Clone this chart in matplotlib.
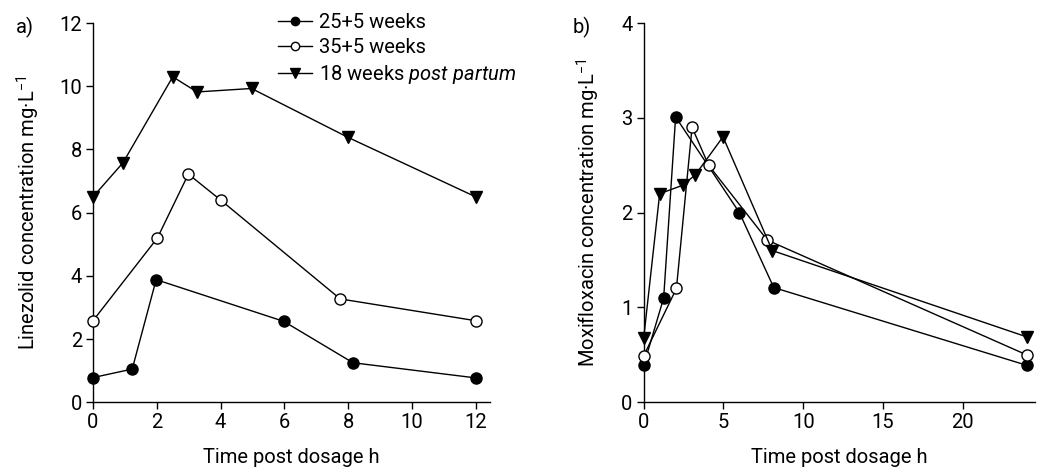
import matplotlib
matplotlib.use('Agg')
import matplotlib.pyplot as plt

plt.rcParams['font.family'] = ['Roboto', 'DejaVu Sans']
plt.rcParams['mathtext.fontset'] = 'custom'
plt.rcParams['mathtext.rm'] = 'Roboto'
plt.rcParams['mathtext.it'] = 'Roboto:italic'

labels = ['25+5 weeks', '35+5 weeks', '18 weeks $\\mathit{post\\ partum}$']

# panel a: linezolid
lin_t_25 = [0, 1.23, 1.98, 5.98, 8.15, 12]
lin_c_25 = [0.78, 1.05, 3.88, 2.56, 1.25, 0.77]
lin_t_35 = [0, 2.02, 2.99, 4.0, 7.75, 12]
lin_c_35 = [2.58, 5.2, 7.22, 6.4, 3.27, 2.58]
lin_t_18 = [0, 0.94, 2.5, 3.26, 4.97, 8.0, 12]
lin_c_18 = [6.5, 7.58, 10.3, 9.82, 9.93, 8.38, 6.5]

# panel b: moxifloxacin
mox_t_25 = [0, 1.25, 2.0, 6.0, 8.15, 24]
mox_c_25 = [0.39, 1.1, 3.01, 2.0, 1.21, 0.39]
mox_t_35 = [0, 2.05, 3.03, 4.07, 7.75, 24]
mox_c_35 = [0.49, 1.2, 2.9, 2.5, 1.71, 0.5]
mox_t_18 = [0, 1.0, 2.46, 3.24, 4.97, 8.06, 24]
mox_c_18 = [0.68, 2.2, 2.29, 2.4, 2.8, 1.6, 0.69]

fs = 14.5

fig = plt.figure(figsize=(10.45, 4.71), dpi=100)
ax1 = fig.add_axes([0.089, 0.146, 0.38, 0.805])
ax2 = fig.add_axes([0.616, 0.146, 0.374, 0.805])

styles = [dict(marker='o', mfc='black', mec='black'),
          dict(marker='o', mfc='white', mec='black'),
          dict(marker='v', mfc='black', mec='black')]
sizes = [8, 8, 9]

def draw(ax, series):
    for (t, c), st, ms, lab in zip(series, styles, sizes, labels):
        ax.plot(t, c, color='black', lw=1.0, ms=ms, mew=1.0, label=lab,
                clip_on=False, zorder=3, **st)
    for s in ['top', 'right']:
        ax.spines[s].set_visible(False)
    for s in ['left', 'bottom']:
        ax.spines[s].set_linewidth(1.0)
    ax.tick_params(direction='out', length=5, width=1.0, labelsize=fs, pad=3)
    ax.set_xlabel('Time post dosage h', fontsize=fs, labelpad=11)

draw(ax1, [(lin_t_25, lin_c_25), (lin_t_35, lin_c_35), (lin_t_18, lin_c_18)])
ax1.set_xlim(0, 12.45)
ax1.set_ylim(0, 12)
ax1.set_xticks(range(0, 13, 2))
ax1.set_yticks(range(0, 13, 2))
ax1.set_ylabel('Linezolid concentration mg·L$^{-1}$', fontsize=fs, labelpad=12)
ax1.legend(loc='upper left', bbox_to_anchor=(0.465, 1.027), frameon=False,
           fontsize=fs, handlelength=1.7, handletextpad=0.35, labelspacing=0.3,
           borderaxespad=0, borderpad=0, markerscale=0.75)

draw(ax2, [(mox_t_25, mox_c_25), (mox_t_35, mox_c_35), (mox_t_18, mox_c_18)])
ax2.set_xlim(0, 24.5)
ax2.set_ylim(0, 4)
ax2.set_xticks(range(0, 21, 5))
ax2.set_yticks(range(0, 5))
ax2.set_ylabel('Moxifloxacin concentration mg·L$^{-1}$', fontsize=fs, labelpad=14)

fig.text(0.015, 0.965, 'a)', fontsize=fs, va='top')
fig.text(0.548, 0.965, 'b)', fontsize=fs, va='top')

fig.savefig('out.png', dpi=100)
